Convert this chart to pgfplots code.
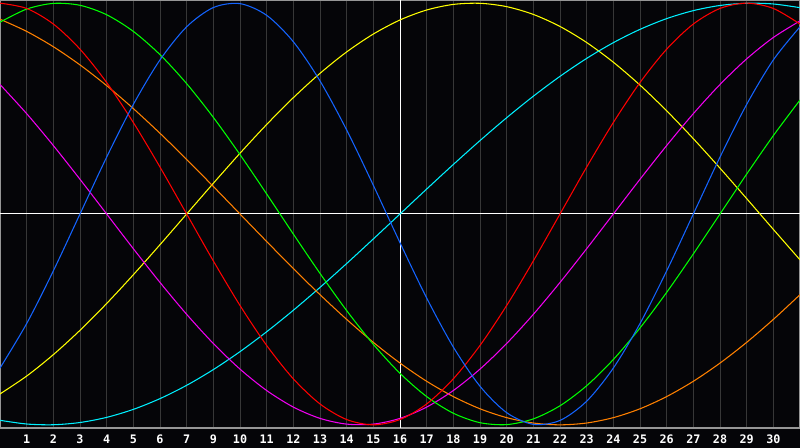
\documentclass[border=0pt]{standalone}
\usepackage{pgfplots}
\pgfplotsset{compat=1.18}
\usepackage{pgfplotstable}
\usepackage{fontspec}
\setmonofont{DejaVu Sans Mono}
\definecolor{bg}{RGB}{5,5,8}
\definecolor{gridgray}{RGB}{55,55,55}
\definecolor{framegray}{RGB}{150,150,150}
\definecolor{cblue}{RGB}{20,100,255}
\definecolor{cred}{RGB}{255,0,0}
\definecolor{cgreen}{RGB}{0,255,0}
\definecolor{cyellow}{RGB}{255,255,0}
\definecolor{ccyan}{RGB}{0,240,255}
\definecolor{corange}{RGB}{255,128,0}
\definecolor{cmagenta}{RGB}{240,0,240}
\pgfplotstableread{
u b r g m y o c
0 -0.7308 1.0000 0.9096 0.6142 -0.8535 0.9239 -0.9785
1 -0.5196 0.9749 0.9718 0.4759 -0.7687 0.8660 -0.9961
2 -0.2698 0.9010 0.9989 0.3247 -0.6671 0.7934 -0.9996
3 0.0000 0.7818 0.9898 0.1646 -0.5517 0.7071 -0.9890
4 0.2698 0.6235 0.9450 0.0000 -0.4245 0.6088 -0.9646
5 0.5196 0.4339 0.8660 -0.1646 -0.2881 0.5000 -0.9267
6 0.7308 0.2225 0.7557 -0.3247 -0.1456 0.3827 -0.8757
7 0.8879 0.0000 0.6182 -0.4759 0.0000 0.2588 -0.8126
8 0.9791 -0.2225 0.4582 -0.6142 0.1456 0.1305 -0.7380
9 0.9977 -0.4339 0.2817 -0.7357 0.2881 0.0000 -0.6529
10 0.9423 -0.6235 0.0951 -0.8372 0.4245 -0.1305 -0.5586
11 0.8170 -0.7818 -0.0951 -0.9158 0.5517 -0.2588 -0.4566
12 0.6311 -0.9010 -0.2817 -0.9694 0.6671 -0.3827 -0.3482
13 0.3984 -0.9749 -0.4582 -0.9966 0.7687 -0.5000 -0.2349
14 0.1362 -1.0000 -0.6182 -0.9966 0.8535 -0.6088 -0.1183
15 -0.1362 -0.9749 -0.7557 -0.9694 0.9203 -0.7071 0.0000
16 -0.3984 -0.9010 -0.8660 -0.9158 0.9675 -0.7934 0.1183
17 -0.6311 -0.7818 -0.9450 -0.8372 0.9940 -0.8660 0.2349
18 -0.8170 -0.6235 -0.9898 -0.7357 0.9993 -0.9239 0.3482
19 -0.9423 -0.4339 -0.9989 -0.6142 0.9834 -0.9659 0.4566
20 -0.9977 -0.2225 -0.9718 -0.4759 0.9465 -0.9914 0.5586
21 -0.9791 0.0000 -0.9096 -0.3247 0.8894 -1.0000 0.6529
22 -0.8879 0.2225 -0.8146 -0.1646 0.8133 -0.9914 0.7380
23 -0.7308 0.4339 -0.6901 0.0000 0.7199 -0.9659 0.8126
24 -0.5196 0.6235 -0.5406 0.1646 0.6112 -0.9239 0.8757
25 -0.2698 0.7818 -0.3717 0.3247 0.4894 -0.8660 0.9267
26 0.0000 0.9010 -0.1893 0.4759 0.3572 -0.7934 0.9646
27 0.2698 0.9749 0.0000 0.6142 0.2174 -0.7071 0.9890
28 0.5196 1.0000 0.1893 0.7357 0.0730 -0.6088 0.9996
29 0.7308 0.9749 0.3717 0.8372 -0.0730 -0.5000 0.9961
30 0.8879 0.9010 0.5406 0.9158 -0.2174 -0.3827 0.9785
}\bio
\begin{document}
\begin{tikzpicture}
\fill[bg] (0,-15pt) rectangle (600pt,321pt);
\useasboundingbox (0,-15pt) rectangle (600pt,321pt);
\begin{axis}[
  at={(0,0)}, anchor=south west,
  scale only axis, width=600pt, height=321pt,
  xmin=0, xmax=30, ymin=-1.015, ymax=1.015,
  axis line style={draw=framegray, line width=0.9pt},
  axis background/.style={fill=bg},
  xtick={1,...,29},
  xticklabels={1,2,3,4,5,6,7,9,10,11,12,13,14,15,16,17,18,19,20,21,22,23,24,25,26,27,28,29,30},
  ytick=\empty,
  major tick length=0pt,
  xmajorgrids,
  grid style={draw=gridgray, line width=0.75pt},
  xticklabel style={font=\fontsize{8.8}{9}\selectfont\ttfamily\bfseries, text=white, anchor=center, yshift=-8.3pt},
  /pgf/number format/assume math mode=true,
  clip=true,
  every axis plot/.append style={line width=0.8pt, smooth, no markers},
]
\addplot[white, line width=0.75pt, sharp plot] coordinates {(15,-1.2) (15,1.2)};
\addplot[white, line width=0.75pt, sharp plot] coordinates {(0,0) (30,0)};
\addplot[cyellow] table[x=u,y=y] {\bio};
\addplot[ccyan] table[x=u,y=c] {\bio};
\addplot[corange] table[x=u,y=o] {\bio};
\addplot[cmagenta] table[x=u,y=m] {\bio};
\addplot[cgreen] table[x=u,y=g] {\bio};
\addplot[cred] table[x=u,y=r] {\bio};
\addplot[cblue] table[x=u,y=b] {\bio};
\end{axis}
\end{tikzpicture}
\end{document}
